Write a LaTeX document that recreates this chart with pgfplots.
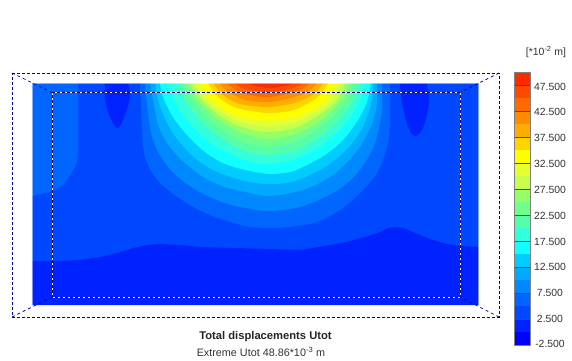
\documentclass[border=0pt]{standalone}
\usepackage{fontspec}
\setmainfont{Liberation Sans}
\usepackage{pgfplots}
\pgfplotsset{compat=1.18}
\definecolor{c01}{HTML}{FF2A00}
\definecolor{c02}{HTML}{FF4800}
\definecolor{c03}{HTML}{FF6A00}
\definecolor{c04}{HTML}{FF8C00}
\definecolor{c05}{HTML}{FFAD00}
\definecolor{c06}{HTML}{FFD500}
\definecolor{c07}{HTML}{FFFF00}
\definecolor{c08}{HTML}{E6FF33}
\definecolor{c09}{HTML}{C8FF4D}
\definecolor{c10}{HTML}{96FF66}
\definecolor{c11}{HTML}{6EFF8C}
\definecolor{c12}{HTML}{55FFAA}
\definecolor{c13}{HTML}{33FFDD}
\definecolor{c14}{HTML}{11FFFF}
\definecolor{c15}{HTML}{00CCFF}
\definecolor{c16}{HTML}{00AAFF}
\definecolor{c17}{HTML}{0088FF}
\definecolor{c18}{HTML}{0066FF}
\definecolor{c19}{HTML}{0048FF}
\definecolor{c20}{HTML}{0022FF}
\definecolor{c21}{HTML}{0000FF}
\definecolor{navy}{HTML}{000099}
\newcommand{\cbl}[2]{\node[font=\fontsize{10.4}{11}\selectfont, text=black!80, anchor=center] at (axis cs:550,#1) {#2};}
\begin{document}
\begin{tikzpicture}
\begin{axis}[
  scale only axis, width=572pt, height=358pt,
  xmin=0, xmax=572, ymin=0, ymax=358, y dir=reverse,
  axis lines=none, xtick=\empty, ytick=\empty,
  clip=false,
  cont/.style={draw=none, smooth, tension=0.55, forget plot},
  poly/.style={draw=none, forget plot},
]
% page
\addplot[poly, fill=white] coordinates {(0,0)(572,0)(572,358)(0,358)};
% plate
\addplot[poly, fill=c19] coordinates {(32,80)(478.5,80)(478.5,305)(32,305)};
% left band
\addplot[poly, fill=c18] coordinates {(32,80)(78,80)(78,157)(76,165)(73,170)(68,179)(63,185)(57,189)(50,192)(42,194)(32,196)};
% bottom band
\addplot[poly, fill=c20] coordinates {(32,261)(60,261)(80,260)(100,257)(117,253)(133,248)(147,245)(160,244)(180,245)(200,247)(235,248)(270,249)(300,250)(313,248)(330,245)(347,242)(365,237)(380,232)(388,228)(395,227)(403,228)(413,232)(430,239)(447,244)(460,246)(478.5,247)(478.5,305)(32,305)};
% central contours, outer to inner
\addplot[cont, fill=c18] coordinates {(140,75)(140,83)(142,130)(145,157)(155,177)(172,193)(195,208)(218,218)(245,226)(268,228)(290,227)(317,222)(340,210)(360,193)(377,173)(387,147)(390,123)(390,83)(390,75)};
\addplot[cont, fill=c17] coordinates {(145,75)(145,83)(148,113)(153,140)(163,160)(178,177)(198,191)(222,202)(245,208)(270,211)(300,207)(325,197)(345,185)(362,167)(375,143)(382,110)(382,83)(382,75)};
\addplot[cont, fill=c16] coordinates {(150,75)(150,83)(155,110)(160,130)(170,147)(185,163)(205,178)(225,187)(250,193)(270,196)(303,190)(330,177)(352,157)(367,135)(376,110)(377,83)(377,75)};
\addplot[cont, fill=c15] coordinates {(155,75)(155,83)(159,103)(167,123)(178,140)(195,158)(215,171)(245,181)(270,184)(295,181)(325,167)(347,149)(363,127)(372,100)(373,83)(373,75)};
\addplot[cont, fill=c14] coordinates {(160,75)(160,83)(163,97)(173,117)(187,135)(205,152)(225,164)(250,171)(270,174)(290,172)(303,167)(325,155)(343,140)(358,120)(367,102)(371,83)(371,75)};
\addplot[cont, fill=c13] coordinates {(168,75)(168,83)(173,97)(183,115)(198,132)(218,148)(245,160)(268,164)(295,159)(316,149)(336,134)(352,115)(362,97)(365,83)(365,75)};
\addplot[cont, fill=c12] coordinates {(178,75)(178,83)(183,97)(193,112)(208,128)(228,143)(245,151)(268,155)(295,151)(312,142)(330,129)(345,113)(355,97)(358,83)(358,75)};
\addplot[cont, fill=c11] coordinates {(183,75)(183,83)(190,97)(200,110)(215,125)(232,136)(245,143)(268,147)(295,142)(308,135)(325,124)(339,110)(349,97)(353,83)(353,75)};
\addplot[cont, fill=c10] coordinates {(188,75)(188,83)(195,97)(205,108)(222,122)(245,134)(268,139)(295,134)(319,122)(334,108)(344,97)(349,83)(349,75)};
\addplot[cont, fill=c09] coordinates {(191,75)(191,83)(198,95)(210,108)(227,120)(245,128)(268,132)(295,128)(314,118)(329,108)(339,97)(345,83)(345,75)};
\addplot[cont, fill=c08] coordinates {(194,75)(194,83)(203,97)(215,108)(232,118)(245,123)(268,126.5)(295,122.5)(309,116)(324,108)(334,97)(340,83)(340,75)};
\addplot[cont, fill=c07] coordinates {(200,75)(200,83)(209,97)(222,108)(235,115)(245,118)(268,120.5)(295,117)(305,113)(319,106)(329,95)(335,83)(335,75)};
\addplot[cont, fill=c06] coordinates {(208,75)(208,83)(218,97)(232,106)(245,110)(268,113)(290,111)(307,104)(320,95)(328,83)(328,75)};
\addplot[cont, fill=c05] coordinates {(213,75)(213,83)(223,95)(235,102)(245,105)(268,107)(290,104)(302,100)(315,93)(323,83)(323,75)};
\addplot[cont, fill=c04] coordinates {(220,75)(220,83)(228,92)(238,97)(245,100)(268,102)(290,98)(307,92)(317,83)(317,75)};
\addplot[cont, fill=c03] coordinates {(227,75)(227,83)(235,89)(245,94)(268,97)(290,93)(300,90)(310,83)(310,75)};
\addplot[cont, fill=c02] coordinates {(235,75)(235,83)(245,89)(268,92)(290,89)(295,87)(303,83)(303,75)};
\addplot[cont, fill=c01] coordinates {(248,75)(248,83)(258,86.5)(270,88)(282,86.5)(293,83)(293,75)};
% pockets
\addplot[cont, fill=c20] coordinates {(105,75)(105,83)(105,100)(110,117)(117,128)(123,120)(130,97)(128,83)(128,75)};
\addplot[cont, fill=c20] coordinates {(400,75)(400,83)(402,103)(408,127)(415,136)(423,128)(429,103)(427,83)(427,75)};
% cover above plate
\addplot[draw=none, fill=white, forget plot] coordinates {(20,60)(490,60)(490,83)(20,83)};
% plate edge
\addplot[white, opacity=0.5, line width=1pt, forget plot] coordinates {(32.5,305)(32.5,83.5)(478,83.5)(478,305)};
% inner frame
\addplot[white, line width=0.9pt, forget plot] coordinates {(52,92.5)(460,92.5)(460,297)(52,297)(52,92.5)};
\addplot[navy, line width=0.9pt, dash pattern=on 3pt off 2pt, forget plot] coordinates {(52,92.5)(460,92.5)(460,297)(52,297)(52,92.5)};
% outer frame
\addplot[navy, line width=0.8pt, dash pattern=on 3pt off 2pt, forget plot] coordinates {(12,73)(499,73)(499,317)(12,317)(12,73)};
% corners
\addplot[navy, line width=0.7pt, dash pattern=on 3pt off 3pt, forget plot] coordinates {(12,73)(52,92.5)};
\addplot[navy, line width=0.7pt, dash pattern=on 3pt off 3pt, forget plot] coordinates {(499,73)(460,92.5)};
\addplot[navy, line width=0.7pt, dash pattern=on 3pt off 3pt, forget plot] coordinates {(12,317)(52,297)};
\addplot[navy, line width=0.7pt, dash pattern=on 3pt off 3pt, forget plot] coordinates {(499,317)(460,297)};
% colour bar
\addplot[poly, fill=c01] coordinates {(514.5,72)(530,72)(530,85)(514.5,85)};
\addplot[poly, fill=c02] coordinates {(514.5,85)(530,85)(530,98)(514.5,98)};
\addplot[poly, fill=c03] coordinates {(514.5,98)(530,98)(530,111)(514.5,111)};
\addplot[poly, fill=c04] coordinates {(514.5,111)(530,111)(530,124)(514.5,124)};
\addplot[poly, fill=c05] coordinates {(514.5,124)(530,124)(530,137)(514.5,137)};
\addplot[poly, fill=c06] coordinates {(514.5,137)(530,137)(530,150)(514.5,150)};
\addplot[poly, fill=c07] coordinates {(514.5,150)(530,150)(530,163)(514.5,163)};
\addplot[poly, fill=c08] coordinates {(514.5,163)(530,163)(530,176)(514.5,176)};
\addplot[poly, fill=c09] coordinates {(514.5,176)(530,176)(530,189)(514.5,189)};
\addplot[poly, fill=c10] coordinates {(514.5,189)(530,189)(530,202)(514.5,202)};
\addplot[poly, fill=c11] coordinates {(514.5,202)(530,202)(530,215)(514.5,215)};
\addplot[poly, fill=c12] coordinates {(514.5,215)(530,215)(530,228)(514.5,228)};
\addplot[poly, fill=c13] coordinates {(514.5,228)(530,228)(530,241)(514.5,241)};
\addplot[poly, fill=c14] coordinates {(514.5,241)(530,241)(530,254)(514.5,254)};
\addplot[poly, fill=c15] coordinates {(514.5,254)(530,254)(530,267)(514.5,267)};
\addplot[poly, fill=c16] coordinates {(514.5,267)(530,267)(530,280)(514.5,280)};
\addplot[poly, fill=c17] coordinates {(514.5,280)(530,280)(530,293)(514.5,293)};
\addplot[poly, fill=c18] coordinates {(514.5,293)(530,293)(530,306)(514.5,306)};
\addplot[poly, fill=c19] coordinates {(514.5,306)(530,306)(530,319)(514.5,319)};
\addplot[poly, fill=c20] coordinates {(514.5,319)(530,319)(530,332)(514.5,332)};
\addplot[poly, fill=c21] coordinates {(514.5,332)(530,332)(530,345)(514.5,345)};
\addplot[black!70, line width=0.8pt, forget plot] coordinates {(514.5,85)(530,85)};
\addplot[black!70, line width=0.8pt, forget plot] coordinates {(514.5,111)(530,111)};
\addplot[black!70, line width=0.8pt, forget plot] coordinates {(514.5,137.5)(530,137.5)};
\addplot[black!70, line width=0.8pt, forget plot] coordinates {(514.5,163)(530,163)};
\addplot[black!70, line width=0.8pt, forget plot] coordinates {(514.5,189.5)(530,189.5)};
\addplot[black!70, line width=0.8pt, forget plot] coordinates {(514.5,215.5)(530,215.5)};
\addplot[black!70, line width=0.8pt, forget plot] coordinates {(514.5,241)(530,241)};
\addplot[black!70, line width=0.8pt, forget plot] coordinates {(514.5,267)(530,267)};
\addplot[black!70, line width=0.8pt, forget plot] coordinates {(514.5,293)(530,293)};
\addplot[black!70, line width=0.8pt, forget plot] coordinates {(514.5,319)(530,319)};
\addplot[black!50, line width=0.8pt, forget plot] coordinates {(514.5,72)(530,72)(530,345)(514.5,345)(514.5,72)};
% labels
\cbl{87}{47.500}
\cbl{112}{42.500}
\cbl{138}{37.500}
\cbl{164}{32.500}
\cbl{190}{27.500}
\cbl{216}{22.500}
\cbl{242}{17.500}
\cbl{267}{12.500}
\cbl{293}{7.500}
\cbl{319}{2.500}
\cbl{344}{-2.500}
\node[font=\fontsize{10.5}{11}\selectfont, text=black!80, anchor=center] at (axis cs:546,52) {[*10\textsuperscript{-2} m]};
\node[font=\bfseries\fontsize{11.2}{12}\selectfont, text=black!85, anchor=center] at (axis cs:265.5,337) {Total displacements Utot};
\node[font=\fontsize{10.8}{12}\selectfont, text=black!80, anchor=center] at (axis cs:261,352) {Extreme Utot 48.86*10\textsuperscript{-3} m};
\end{axis}
\end{tikzpicture}
\end{document}
